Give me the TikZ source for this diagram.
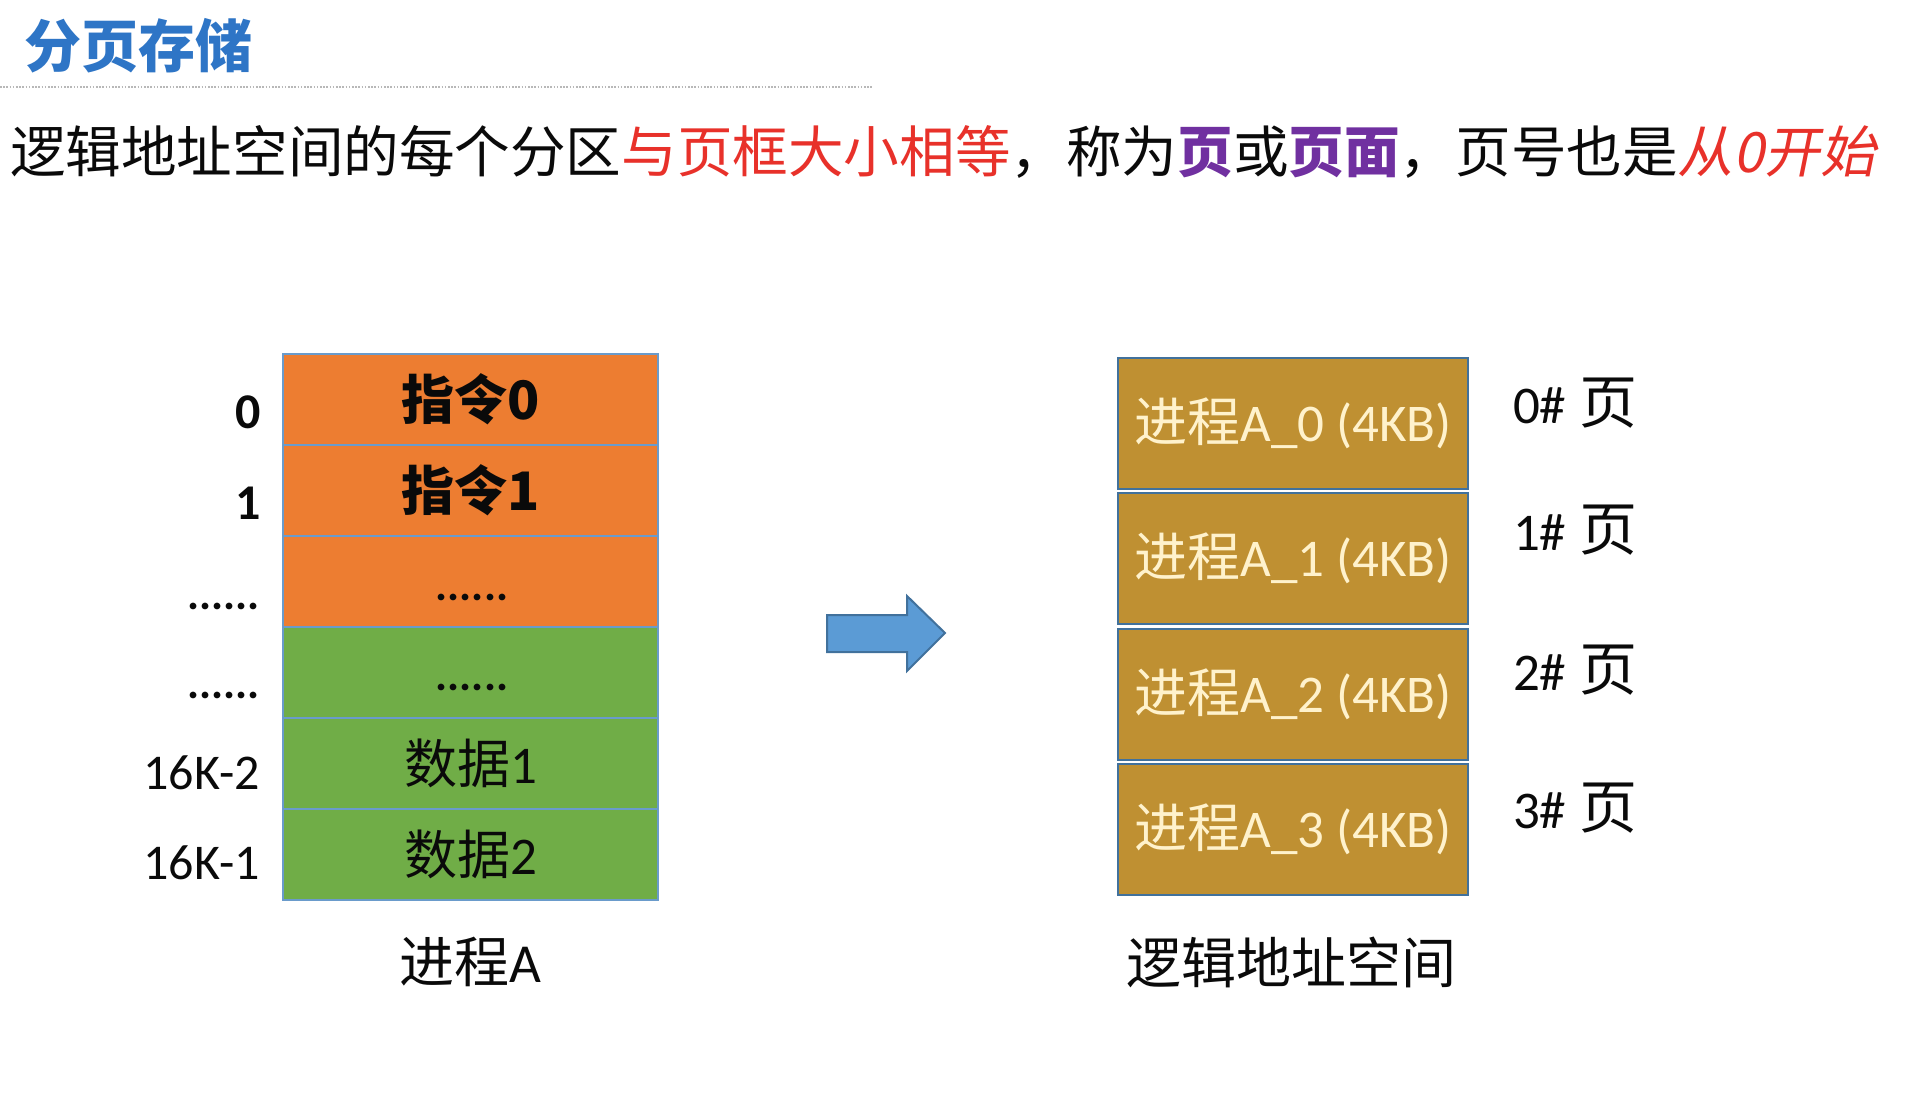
\documentclass[tikz,border=0pt]{standalone}
\usepackage{fontspec}
\setmainfont{Noto Sans CJK SC}
\newfontfamily\cjk{Noto Sans CJK SC}
\newfontfamily\cjkit[FakeSlant=0.2]{Noto Sans CJK SC}
\newfontfamily\calf{Carlito}
\newcommand\setfs[1]{\fontsize{#1}{#1}\selectfont}
\definecolor{orng}{HTML}{ED7D31}
\definecolor{grn}{HTML}{70AD47}
\definecolor{rowline}{HTML}{6A9BCB}
\definecolor{gold}{HTML}{BF9032}
\definecolor{pline}{HTML}{41719C}
\definecolor{cream}{HTML}{FFF2CC}
\definecolor{arrfill}{HTML}{5B9BD5}
\definecolor{arrline}{HTML}{41719C}
\definecolor{titleblue}{HTML}{2E75C6}
\definecolor{subred}{HTML}{E8312A}
\definecolor{purp}{HTML}{7030A0}
\definecolor{ink}{HTML}{0A0A0A}
\definecolor{dotgray}{HTML}{B8B8B8}
\begin{document}
\begin{tikzpicture}[x=1pt,y=-1pt,
  every node/.style={inner sep=0pt, outer sep=0pt, text=ink},
  rowbox/.style={draw=rowline, line width=2.5pt, minimum width=375pt, minimum height=91pt, font=\cjk\setfs{53}},
  obox/.style={rowbox, fill=orng},
  gbox/.style={rowbox, fill=grn},
  pagebox/.style={draw=pline, line width=2pt, fill=gold, minimum width=350pt, minimum height=131pt, text=cream, font=\setfs{53}},
  addrlbl/.style={anchor=base east, font=\calf\setfs{50}},
  dotlbl/.style={anchor=base, font=\calf\bfseries\setfs{45}},
  pagelbl/.style={anchor=base west, font=\setfs{53}},
  caption/.style={font=\cjk\setfs{55}}
]
\useasboundingbox[fill=white] (0,0) rectangle (1920,1110);

% title
\node[anchor=base west, text=titleblue, font=\cjk\bfseries\setfs{57}] (title) at (24,68) {分页存储};
\coordinate (dl1) at (0,87);
\coordinate (dl2) at (873,87);
\draw[dotgray, line width=1.6pt, dash pattern=on 1.6pt off 1.6pt] (dl1) -- (dl2);

% subtitle
\node[anchor=base west, font=\cjk\setfs{55.6}] (sub) at (10,173)
  {逻辑地址空间的每个分区\textcolor{subred}{与页框大小相等}，称为\textcolor{purp}{\bfseries 页}或\textcolor{purp}{\bfseries 页面}，页号也是\textcolor{subred}{\cjkit 从0开始}};

% left: process A
\node[obox] (r0) at (470.5,399.5) {\bfseries 指令0};
\node[obox] (r1) at (470.5,490.5) {\bfseries 指令1};
\node[obox] (r2) at (470.5,581.5) {};
\node[gbox] (r3) at (470.5,672.5) {};
\node[gbox] (r4) at (470.5,763.5) {数据{\calf 1}};
\node[gbox] (r5) at (470.5,854.5) {数据{\calf 2}};
\node[dotlbl] (rd2) at (472,600) {......};
\node[dotlbl] (rd3) at (472,690) {......};

\node[addrlbl, font=\calf\bfseries\setfs{50}] (a0) at (261,428) {0};
\node[addrlbl, font=\calf\bfseries\setfs{50}] (a1) at (261,519) {1};
\node[dotlbl, anchor=base east] (a2) at (260,609) {......};
\node[dotlbl, anchor=base east] (a3) at (260,698) {......};
\node[addrlbl] (a4) at (260,789) {16K-2};
\node[addrlbl] (a5) at (260,879) {16K-1};

\node[caption] (capA) at (470,962) {进程{\calf A}};

% arrow
\coordinate (p1) at (827,615);
\coordinate (p2) at (907,615);
\coordinate (p3) at (907,596);
\coordinate (p4) at (945,633);
\coordinate (p5) at (907,671);
\coordinate (p6) at (907,652);
\coordinate (p7) at (827,652);
\draw[fill=arrfill, draw=arrline, line width=2pt, line join=miter] (p1) -- (p2) -- (p3) -- (p4) -- (p5) -- (p6) -- (p7) -- cycle;

% right: logical address space
\node[pagebox] (pg0) at (1293,423) {\cjk 进程{\calf A\_0 (4KB)}};
\node[pagebox] (pg1) at (1293,558.5) {\cjk 进程{\calf A\_1 (4KB)}};
\node[pagebox] (pg2) at (1293,694.5) {\cjk 进程{\calf A\_2 (4KB)}};
\node[pagebox] (pg3) at (1293,829.5) {\cjk 进程{\calf A\_3 (4KB)}};

\node[pagelbl] (n0) at (1513,423) {{\calf 0\#}\hspace{0.25em}{\cjk\setfs{58}页}};
\node[pagelbl] (n1) at (1513,550) {{\calf 1\#}\hspace{0.25em}{\cjk\setfs{58}页}};
\node[pagelbl] (n2) at (1513,690) {{\calf 2\#}\hspace{0.25em}{\cjk\setfs{58}页}};
\node[pagelbl] (n3) at (1513,828) {{\calf 3\#}\hspace{0.25em}{\cjk\setfs{58}页}};

\node[caption] (capL) at (1291,962) {逻辑地址空间};
\end{tikzpicture}
\end{document}
